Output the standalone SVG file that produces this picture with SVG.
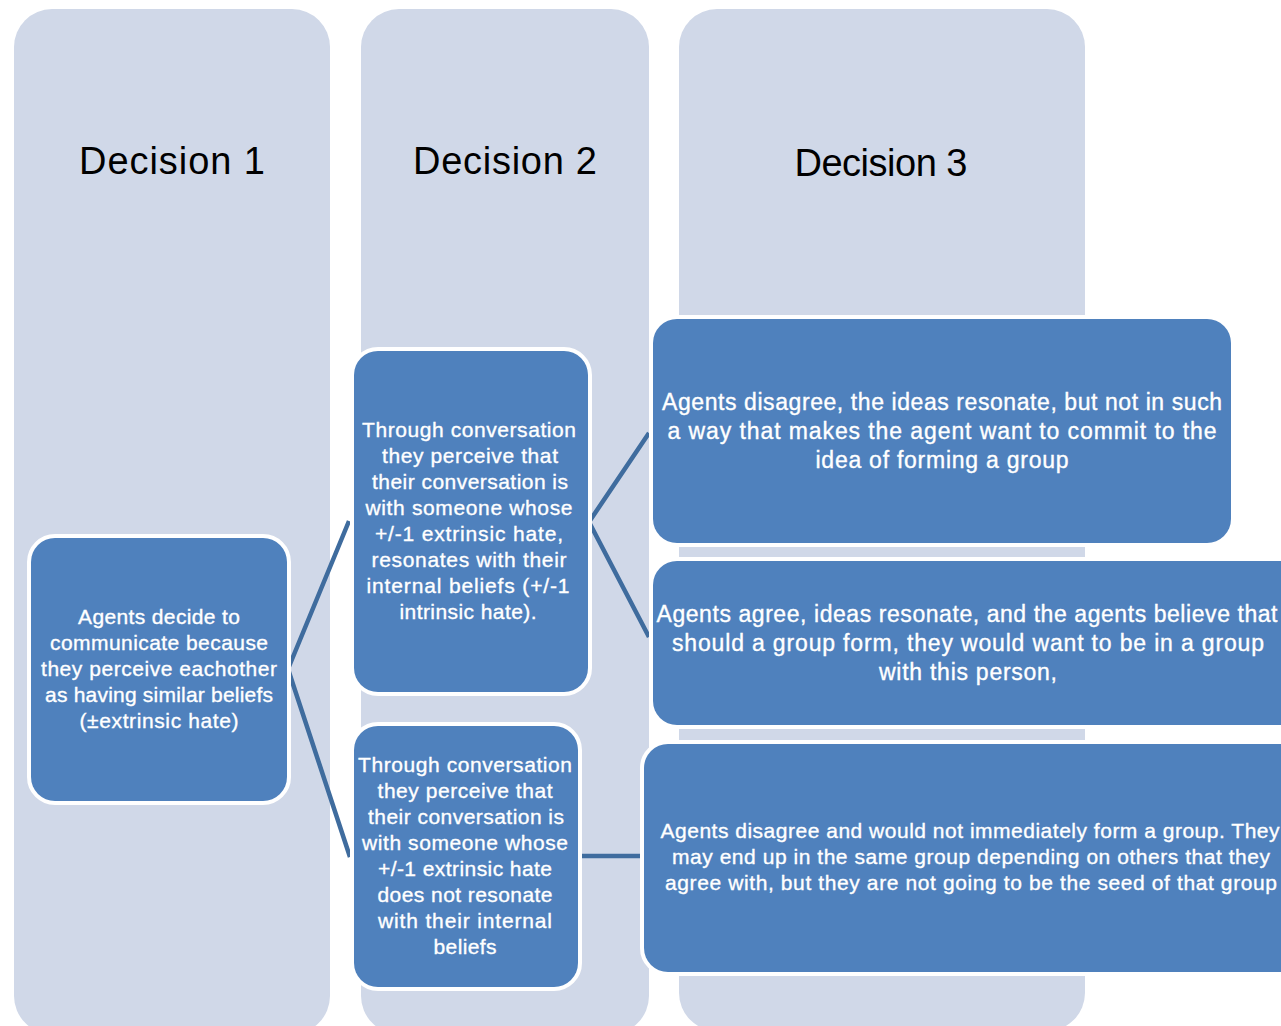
<svg xmlns="http://www.w3.org/2000/svg" width="1281" height="1026" viewBox="0 0 1281 1026">
<style>
.col{fill:#D0D8E8}
.box{fill:#4F81BD;stroke:#FFFFFF;stroke-width:8;paint-order:stroke}
.title{font-family:"Liberation Sans",Arial,sans-serif;font-size:38px;fill:#000000;text-anchor:middle}
.t{font-family:"Liberation Sans",Arial,sans-serif;font-size:21px;fill:#FFFFFF;stroke:#FFFFFF;stroke-width:0.35;text-anchor:middle}
.tl{font-family:"Liberation Sans",Arial,sans-serif;font-size:23px;fill:#FFFFFF;stroke:#FFFFFF;stroke-width:0.35;text-anchor:middle}
.conn{stroke:#3F6C9E;stroke-width:4.5;fill:none;stroke-linecap:butt}
</style>
<rect width="1281" height="1026" fill="#FFFFFF"/>
<g id="columns">
<g id="col1"><rect class="col" x="14" y="9" width="316" height="1025" rx="38"/><text class="title" x="172" y="174" textLength="186" lengthAdjust="spacing">Decision 1</text></g>
<g id="col2"><rect class="col" x="361" y="9" width="288" height="1025" rx="38"/><text class="title" x="505" y="174" textLength="184" lengthAdjust="spacing">Decision 2</text></g>
<g id="col3"><rect class="col" x="679" y="9" width="406" height="1022" rx="38"/><text class="title" x="881" y="176" textLength="173" lengthAdjust="spacing">Decision 3</text></g>
</g>
<g id="connectors">
<path class="conn" d="M288,669 L349,521 M288,669 L350,857"/>
<path class="conn" d="M589,522 L649,433 M589,522 L649,637"/>
<path class="conn" d="M580,856 L641,856"/>
</g>
<g id="nodeA">
<rect class="box" x="31" y="538" width="256" height="263" rx="24"/>
<text class="t" x="159" y="624" textLength="162" lengthAdjust="spacing">Agents decide to</text>
<text class="t" x="159" y="650" textLength="218" lengthAdjust="spacing">communicate because</text>
<text class="t" x="159" y="676" textLength="236" lengthAdjust="spacing">they perceive eachother</text>
<text class="t" x="159" y="702" textLength="228" lengthAdjust="spacing">as having similar beliefs</text>
<text class="t" x="159" y="728" textLength="159" lengthAdjust="spacing">(±extrinsic hate)</text>
</g>
<g id="nodeB1">
<rect class="box" x="354" y="351" width="234" height="341" rx="24"/>
<text class="t" x="469" y="437" textLength="214" lengthAdjust="spacing">Through conversation</text>
<text class="t" x="470" y="463" textLength="176" lengthAdjust="spacing">they perceive that</text>
<text class="t" x="470" y="489" textLength="196" lengthAdjust="spacing">their conversation is</text>
<text class="t" x="469" y="515" textLength="207" lengthAdjust="spacing">with someone whose</text>
<text class="t" x="469" y="541" textLength="188" lengthAdjust="spacing">+/-1 extrinsic hate,</text>
<text class="t" x="469" y="567" textLength="195" lengthAdjust="spacing">resonates with their</text>
<text class="t" x="468" y="593" textLength="203" lengthAdjust="spacing">internal beliefs (+/-1</text>
<text class="t" x="468" y="619" textLength="137" lengthAdjust="spacing">intrinsic hate).</text>
</g>
<g id="nodeB2">
<rect class="box" x="354" y="726" width="224" height="261" rx="24"/>
<text class="t" x="465" y="772" textLength="214" lengthAdjust="spacing">Through conversation</text>
<text class="t" x="465" y="798" textLength="175" lengthAdjust="spacing">they perceive that</text>
<text class="t" x="466" y="824" textLength="196" lengthAdjust="spacing">their conversation is</text>
<text class="t" x="465" y="850" textLength="206" lengthAdjust="spacing">with someone whose</text>
<text class="t" x="465" y="876" textLength="174" lengthAdjust="spacing">+/-1 extrinsic hate</text>
<text class="t" x="465" y="902" textLength="175" lengthAdjust="spacing">does not resonate</text>
<text class="t" x="465" y="928" textLength="174" lengthAdjust="spacing">with their internal</text>
<text class="t" x="465" y="954" textLength="63" lengthAdjust="spacing">beliefs</text>
</g>
<g id="nodeC1">
<rect class="box" x="653" y="319" width="578" height="224" rx="24"/>
<text class="tl" x="942" y="410" textLength="560" lengthAdjust="spacing">Agents disagree, the ideas resonate, but not in such</text>
<text class="tl" x="942" y="439" textLength="549" lengthAdjust="spacing">a way that makes the agent want to commit to the</text>
<text class="tl" x="942" y="468" textLength="253" lengthAdjust="spacing">idea of forming a group</text>
</g>
<g id="nodeC2">
<rect class="box" x="653" y="561" width="650" height="164" rx="24"/>
<text class="tl" x="967" y="622" textLength="621" lengthAdjust="spacing">Agents agree, ideas resonate, and the agents believe that</text>
<text class="tl" x="968" y="651" textLength="592" lengthAdjust="spacing">should a group form, they would want to be in a group</text>
<text class="tl" x="968" y="680" textLength="178" lengthAdjust="spacing">with this person,</text>
</g>
<g id="nodeC3">
<rect class="box" x="644" y="744" width="660" height="228" rx="24"/>
<text class="t" x="970" y="838" textLength="619" lengthAdjust="spacing">Agents disagree and would not immediately  form a group. They</text>
<text class="t" x="971" y="864" textLength="598" lengthAdjust="spacing">may end up in the same group depending on others that they</text>
<text class="t" x="971" y="890" textLength="612" lengthAdjust="spacing">agree with, but they are not going to be the seed of that group</text>
</g>
</svg>
